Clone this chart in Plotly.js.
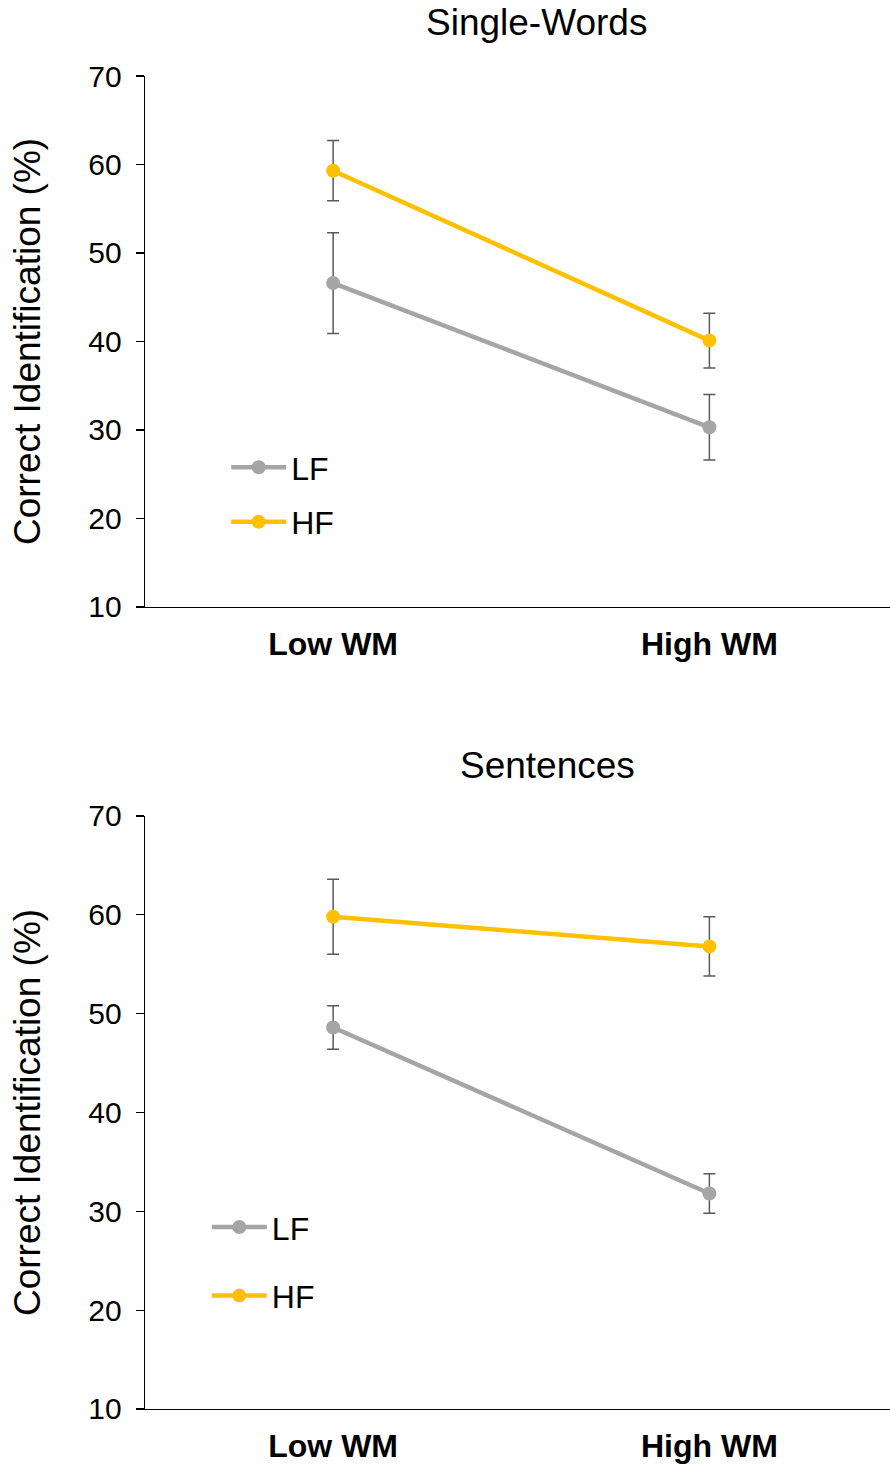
<!DOCTYPE html>
<html>
<head>
<meta charset="utf-8">
<script src="https://cdn.plot.ly/plotly-3.0.1.min.js"></script>
<style>html,body{margin:0;padding:0;background:#fff}</style>
</head>
<body>
<div id="chart" style="width:890px;height:1466px"></div>
<script>
// Data
const categories = ["Low WM", "High WM"];
const seriesNames = ["LF", "HF"];
const panelTitles = ["Single-Words", "Sentences"];
const yTickValues = [10, 20, 30, 40, 50, 60, 70];

// Single-Words panel
const wordsLF = [46.6, 30.3];
const wordsLFerr = [5.7, 3.7];
const wordsHF = [59.3, 40.1];
const wordsHFerr = [3.4, 3.1];

// Sentences panel
const sentLF = [48.6, 31.8];
const sentLFerr = [2.2, 2.0];
const sentHF = [59.8, 56.8];
const sentHFerr = [3.8, 3.0];

const colors = {LF: "#A5A5A5", HF: "#FFC000"};
const FONT = "Liberation Sans, Arial, sans-serif";

function mk(name, yvals, errs, xa, ya, legendId) {
  return {
    type: "scatter", mode: "lines+markers",
    x: categories, y: yvals, name: name,
    xaxis: xa, yaxis: ya, legend: legendId, legendgroup: legendId + name,
    line: {color: colors[name], width: 4.5},
    marker: {color: colors[name], size: 14},
    error_y: {type: "data", array: errs, visible: true, color: "#595959", thickness: 1.5, width: 6}
  };
}

const data = [
  mk("LF", wordsLF, wordsLFerr, "x", "y", "legend"),
  mk("HF", wordsHF, wordsHFerr, "x", "y", "legend"),
  mk("LF", sentLF, sentLFerr, "x2", "y2", "legend2"),
  mk("HF", sentHF, sentHFerr, "x2", "y2", "legend2")
];

function xax(anchor) {
  return {
    anchor: anchor, domain: [0, 1], type: "category", range: [-0.5, 1.48],
    showline: true, linecolor: "#000", linewidth: 1.3, ticks: "", showgrid: false, zeroline: false,
    tickfont: {family: FONT, size: 32, color: "#000", weight: "bold"},
    ticklabelstandoff: 8
  };
}
function yax(anchor, domain) {
  return {
    anchor: anchor, domain: domain, range: [10, 70], tickvals: yTickValues,
    showline: true, linecolor: "#000", linewidth: 1.3, ticks: "outside", ticklen: 8, tickcolor: "#000", tickwidth: 1.3,
    showgrid: false, zeroline: false,
    tickfont: {family: FONT, size: 30, color: "#000"},
    ticklabelstandoff: 8,
    title: {text: "Correct Identification (%)", font: {family: FONT, size: 37, color: "#000"}, standoff: 36}
  };
}

const layout = {
  width: 890, height: 1466,
  margin: {l: 145, r: 0, t: 76, b: 57},
  paper_bgcolor: "#fff", plot_bgcolor: "#fff",
  font: {family: FONT, color: "#000"},
  xaxis: xax("y"),
  yaxis: yax("x", [0.6017, 1]),
  xaxis2: xax("y2"),
  yaxis2: yax("x2", [0, 0.4449]),
  legend: {x: 0.109, y: 0.727, xanchor: "left", yanchor: "top", bgcolor: "rgba(0,0,0,0)",
    font: {family: FONT, size: 32, color: "#000"}, tracegroupgap: 10, itemwidth: 55},
  legend2: {x: 0.083, y: 0.157, xanchor: "left", yanchor: "top", bgcolor: "rgba(0,0,0,0)",
    font: {family: FONT, size: 32, color: "#000"}, tracegroupgap: 24, itemwidth: 55},
  annotations: [
    {text: panelTitles[0], xref: "paper", yref: "paper", x: 0.526, y: 1.0405, xanchor: "center", yanchor: "middle",
     showarrow: false, font: {family: FONT, size: 37, color: "#000"}},
    {text: panelTitles[1], xref: "paper", yref: "paper", x: 0.54, y: 0.4824, xanchor: "center", yanchor: "middle",
     showarrow: false, font: {family: FONT, size: 37, color: "#000"}}
  ],
  showlegend: true
};

Plotly.newPlot("chart", data, layout, {displayModeBar: false, staticPlot: true});
</script>
</body>
</html>
